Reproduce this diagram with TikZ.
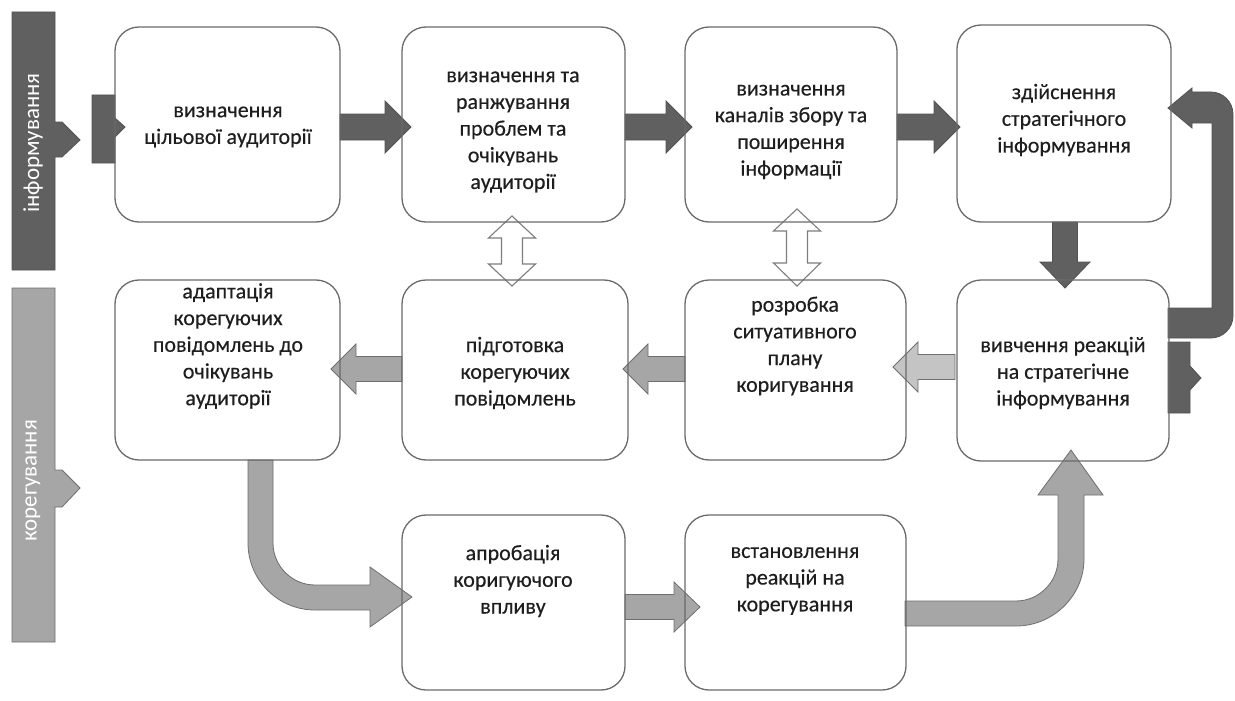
\documentclass[tikz,border=0pt]{standalone}
\usepackage{fontspec}
\setmainfont{Carlito}
\newfontfamily\boxfont{Carlito}[FakeBold=0.35]
\definecolor{dgray}{HTML}{606060}
\definecolor{mgray}{HTML}{A6A6A7}
\definecolor{lgray}{HTML}{C4C4C5}
\definecolor{edgec}{HTML}{6E6E6E}
\definecolor{boxc}{HTML}{6A6A6A}
\definecolor{txtc}{HTML}{1E1E1E}
\newcommand\RArr[4]{\filldraw[#1] (#2,#4-13) -- (#3-26,#4-13) -- (#3-26,#4-26) -- (#3,#4) -- (#3-26,#4+26) -- (#3-26,#4+13) -- (#2,#4+13) -- cycle;}
\newcommand\LArr[4]{\filldraw[#1] (#2,#4-12.5) -- (#3+25,#4-12.5) -- (#3+25,#4-25) -- (#3,#4) -- (#3+25,#4+25) -- (#3+25,#4+12.5) -- (#2,#4+12.5) -- cycle;}
\newcommand\DArr[4]{\filldraw[darr] (#1,#2) -- (#1+23.5,#2+22) -- (#1+10.5,#2+22) -- (#1+10.5,#3) -- (#1+23.5,#3) -- (#1,#4) -- (#1-23.5,#3) -- (#1-10.5,#3) -- (#1-10.5,#2+22) -- (#1-23.5,#2+22) -- cycle;}
\begin{document}
\begin{tikzpicture}[x=1pt,y=-1pt,
  box/.style={draw=boxc, line width=1.3pt, rounded corners=24pt, inner sep=0pt},
  txt/.style={align=center, text=txtc, inner sep=0pt, font=\boxfont\fontsize{22}{26.7}\selectfont},
  bartxt/.style={text=white, inner sep=0pt, rotate=90, font=\fontsize{23}{26}\selectfont},
  darkar/.style={fill=dgray, draw=dgray!85!black, line width=0.8pt},
  grayar/.style={fill=mgray, draw=edgec, line width=0.8pt},
  lightar/.style={fill=lgray, draw=edgec, line width=0.8pt},
  darr/.style={fill=white, draw=edgec!90!white, line width=1.1pt}]
\useasboundingbox (0,0) rectangle (1235,701);
% left bars
\filldraw[fill=dgray, draw=dgray!85!black, line width=0.8pt] (12,12) -- (55,12) -- (55,122) -- (62,122) -- (80,140) -- (62,157) -- (55,157) -- (55,270) -- (12,270) -- cycle;
\node[bartxt] (l1) at (33,143) {інформування};
\filldraw[fill=mgray, draw=edgec, line width=0.8pt] (12,288) -- (55,288) -- (55,470) -- (62,470) -- (80,488) -- (62,507) -- (55,507) -- (55,642) -- (12,642) -- cycle;
\node[bartxt] (l2) at (33,481) {корегування};
% tabs
\filldraw[darkar] (92,95) -- (115,95) -- (115,118) -- (125,127) -- (115,137) -- (115,163) -- (92,163) -- cycle;
\filldraw[darkar] (1168,342) -- (1190,342) -- (1190,366) -- (1201,378) -- (1190,390) -- (1190,413) -- (1168,413) -- cycle;
% row 1 arrows
\RArr{darkar}{340}{411}{127}
\RArr{darkar}{625}{692}{127}
\RArr{darkar}{897}{960}{127}
\filldraw[darkar] (1052.5,222) -- (1077.5,222) -- (1077.5,262) -- (1090,262) -- (1065,288) -- (1040,262) -- (1052.5,262) -- cycle;
% return arrow
\filldraw[darkar] (1168,308) -- (1212,308) -- (1212,123) -- (1192,123) -- (1192,128) -- (1168,108) -- (1192,88) -- (1192,92) -- (1211,92) .. controls (1223,92) and (1233,102) .. (1233,114) -- (1233,316) .. controls (1233,328) and (1223,338) .. (1211,338) -- (1168,338) -- cycle;
% row 2 arrows
\LArr{lightar}{955}{893}{367}
\LArr{grayar}{685}{623}{369}
\LArr{grayar}{402}{331}{369}
% bottom bent arrows
\filldraw[grayar] (248,460) -- (248,543) .. controls (248,580) and (278,610) .. (315,610) -- (370,610) -- (370,627) -- (412,597) -- (370,567) -- (370,585) -- (315,585) .. controls (292,585) and (273,566) .. (273,543) -- (273,460) -- cycle;
\filldraw[grayar] (625,594.5) -- (674,594.5) -- (674,582) -- (700,607) -- (674,632) -- (674,619.5) -- (625,619.5) -- cycle;
\filldraw[grayar] (905,601) -- (1016,601) .. controls (1039,601) and (1058,582) .. (1058,559) -- (1058,495) -- (1038,495) -- (1071,450) -- (1103,495) -- (1084,495) -- (1084,559) .. controls (1084,596) and (1053,626) .. (1016,626) -- (905,626) -- cycle;
% double arrows
\DArr{512}{216}{264}{286}
\DArr{797}{209}{263}{286}
% boxes
\node[box, minimum width=225pt, minimum height=195pt] (b11) at (227.5,124.5) {};
\node[box, minimum width=223pt, minimum height=195pt] (b12) at (513.5,124.5) {};
\node[box, minimum width=212pt, minimum height=195pt] (b13) at (791,124.5) {};
\node[box, minimum width=214pt, minimum height=197pt] (b14) at (1064,123.5) {};
\node[box, minimum width=225pt, minimum height=180pt] (b21) at (227.5,370) {};
\node[box, minimum width=226pt, minimum height=180pt] (b22) at (515,370) {};
\node[box, minimum width=221pt, minimum height=180pt] (b23) at (795.5,370) {};
\node[box, minimum width=212pt, minimum height=181pt] (b24) at (1063,370.5) {};
\node[box, minimum width=223pt, minimum height=175pt] (b32) at (513.5,602.5) {};
\node[box, minimum width=221pt, minimum height=175pt] (b33) at (795.5,602.5) {};
% texts
\node[txt] (t11) at (228,127) {визначення\\цільової аудиторії};
\node[txt] (t12) at (513,132) {визначення та\\ранжування\\проблем та\\очікувань\\аудиторії};
\node[txt] (t13) at (791,132) {визначення\\каналів збору та\\поширення\\інформації};
\node[txt] (t14) at (1064,120) {здійснення\\стратегічного\\інформування};
\node[txt] (t21) at (228,346) {адаптація\\корегуючих\\повідомлень до\\очікувань\\аудиторії};
\node[txt] (t22) at (515,373) {підготовка\\корегуючих\\повідомлень};
\node[txt] (t23) at (795,346) {розробка\\ситуативного\\плану\\коригування};
\node[txt] (t24) at (1063,373) {вивчення реакцій\\на стратегічне\\інформування};
\node[txt] (t32) at (513,581) {апробація\\коригуючого\\впливу};
\node[txt] (t33) at (795,581) {встановлення\\реакцій на\\корегування};
\end{tikzpicture}
\end{document}
